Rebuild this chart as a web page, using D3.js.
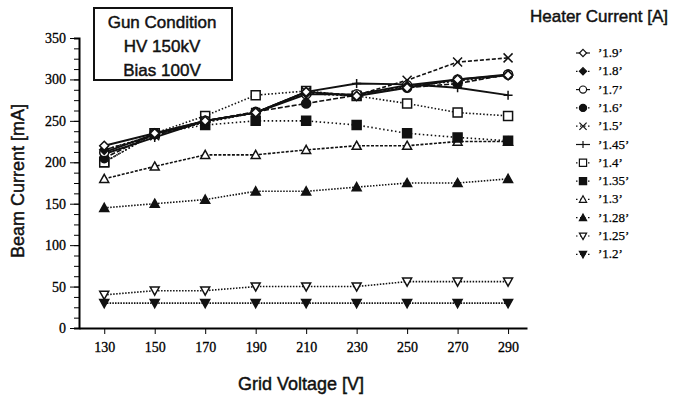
<!DOCTYPE html>
<html>
<head>
<meta charset="utf-8">
<script src="https://cdn.jsdelivr.net/npm/d3@7"></script>
<style>
  body { margin: 0; background: #fff; }
  .sans { font-family: "Liberation Sans", Arial, sans-serif; fill: #111; stroke: #111; stroke-width: 0.45px; }
  .serif { font-family: "Liberation Serif", "Times New Roman", serif; }
</style>
</head>
<body>
<svg id="chart" width="673" height="399"></svg>
<script>
// grid voltage [V]
const voltages = [130, 150, 170, 190, 210, 230, 250, 270, 290]
const yTicks = [0, 50, 100, 150, 200, 250, 300, 350]

// heater current labels and beam current [mA] per series
const heaterLabels = ['1.9', '1.8', '1.7', '1.6', '1.5', '1.45', '1.4', '1.35', '1.3', '1.28', '1.25', '1.2']
const s19  = [220, 235, 250, 260, 285, 280, 290, 300, 305]
const s18  = [215, 233, 248, 260, 283, 280, 292, 298, 305]
const s17  = [212, 234, 250, 260, 282, 282, 293, 300, 306]
const s16  = [205, 235, 250, 261, 271, 281, 290, 295, 306]
const s15  = [215, 232, 250, 260, 285, 281, 299, 321, 326]
const s145 = [210, 230, 250, 260, 285, 295, 294, 290, 281]
const s14  = [200, 235, 256, 281, 286, 280, 271, 260, 256]
const s135 = [200, 235, 245, 250, 250, 245, 235, 230, 226]
const s13  = [180, 195, 209, 209, 215, 220, 220, 225, 225]
const s128 = [145, 150, 155, 165, 165, 170, 175, 175, 180]
const s125 = [40, 45, 45, 50, 50, 50, 56, 56, 56]
const s12  = [30, 30, 30, 30, 30, 30, 30, 30, 30]
const seriesValues = [s19, s18, s17, s16, s15, s145, s14, s135, s13, s128, s125, s12]

// drawing style per series (symbol, filled, dash)
const styles = [
    {sym: 'diamond', fill: false, dash: null},
    {sym: 'diamond', fill: true, dash: '2,2'},
    {sym: 'circle', fill: false, dash: null},
    {sym: 'circle', fill: true, dash: '5,2'},
    {sym: 'cross', fill: false, dash: '4,2'},
    {sym: 'plus', fill: false, dash: null},
    {sym: 'square', fill: false, dash: '1.5,2'},
    {sym: 'square', fill: true, dash: '1.5,2.5'},
    {sym: 'triangle', fill: false, dash: '3,1.5'},
    {sym: 'triangle', fill: true, dash: '1.5,1.5'},
    {sym: 'triangleDown', fill: false, dash: '1.5,1.5'},
    {sym: 'triangleDown', fill: true, dash: '1.5,1.2'}
]

const svg = d3.select('#chart')
const margin = {top: 38, bottom: 71, left: 79, right: 146}
const width = 673 - margin.left - margin.right
const height = 399 - margin.top - margin.bottom

const x = d3.scaleLinear().domain([120, 297.5]).range([0, width])
const y = d3.scaleLinear().domain([0, 350]).range([height, 0])

const g = svg.append('g')
    .attr('transform', 'translate(' + margin.left + ',' + margin.top + ')')

const tickFont = a => a.selectAll('text')
    .attr('font-size', 14).attr('fill', '#000')
    .attr('stroke', '#000').attr('stroke-width', 0.3)
    .attr('font-family', '"Liberation Serif", serif')

// y axis: major + minor ticks
g.append('g')
    .call(d3.axisLeft(y).tickValues(d3.range(0, 351, 12.5)).tickSize(5).tickFormat(''))
    .call(a => a.select('.domain').attr('stroke-width', 2))
g.append('g')
    .call(d3.axisLeft(y).tickValues(yTicks).tickSize(9).tickPadding(4))
    .call(a => a.select('.domain').remove())
    .call(tickFont)

// x axis
g.append('g')
    .attr('transform', 'translate(0,' + height + ')')
    .call(d3.axisBottom(x).tickValues(voltages).tickSize(6).tickSizeOuter(0).tickPadding(8))
    .call(a => a.select('.domain').attr('stroke-width', 2))
    .call(tickFont)

// axis titles
svg.append('text')
    .attr('class', 'sans')
    .attr('transform', 'translate(24,' + (margin.top + height / 2 - 2) + ') rotate(-90)')
    .attr('text-anchor', 'middle')
    .attr('font-size', 18)
    .text('Beam Current [mA]')
svg.append('text')
    .attr('class', 'sans')
    .attr('x', 301).attr('y', 390)
    .attr('text-anchor', 'middle')
    .attr('font-size', 18)
    .text('Grid Voltage [V]')

function symbolPath(sym, size) {
    const s = size
    switch (sym) {
        case 'diamond': return 'M0,' + (-s) + 'L' + s + ',0L0,' + s + 'L' + (-s) + ',0Z'
        case 'circle': return d3.symbol(d3.symbolCircle, Math.PI * s * s)()
        case 'square': return 'M' + (-s) + ',' + (-s) + 'h' + 2 * s + 'v' + 2 * s + 'h' + (-2 * s) + 'Z'
        case 'triangle': return 'M0,' + (-s) + 'L' + s + ',' + (s * 0.8) + 'L' + (-s) + ',' + (s * 0.8) + 'Z'
        case 'triangleDown': return 'M0,' + s + 'L' + s + ',' + (-s * 0.8) + 'L' + (-s) + ',' + (-s * 0.8) + 'Z'
        case 'cross': return 'M' + (-s) + ',' + (-s) + 'L' + s + ',' + s + 'M' + (-s) + ',' + s + 'L' + s + ',' + (-s)
        case 'plus': return 'M' + (-s) + ',0H' + s + 'M0,' + (-s) + 'V' + s
    }
}

function drawSymbol(sel, st) {
    const open = st.sym === 'cross' || st.sym === 'plus'
    sel.append('path')
        .attr('d', symbolPath(st.sym, 4.5))
        .attr('fill', open ? 'none' : (st.fill ? '#111' : '#fff'))
        .attr('stroke', '#111')
        .attr('stroke-width', 1.5)
}

const line = d3.line()
    .x((d, i) => x(voltages[i]))
    .y(d => y(d))

// draw lower series first so the upper ones sit on top
seriesValues.slice().reverse().forEach((vals, ri) => {
    const i = seriesValues.length - 1 - ri
    const st = styles[i]
    g.append('path')
        .datum(vals)
        .attr('d', line)
        .attr('fill', 'none')
        .attr('stroke', '#111')
        .attr('stroke-width', st.dash ? 1.6 : 1.9)
        .attr('stroke-dasharray', st.dash)
    g.selectAll(null)
        .data(vals)
        .enter()
        .append('g')
        .attr('transform', (d, k) => 'translate(' + x(voltages[k]) + ',' + y(d) + ')')
        .each(function () { drawSymbol(d3.select(this), st) })
})

// gun condition box
const box = svg.append('g')
box.append('rect')
    .attr('x', 94).attr('y', 8).attr('width', 138).attr('height', 72)
    .attr('fill', '#fff').attr('stroke', '#111').attr('stroke-width', 2)
const boxLines = ['Gun Condition', 'HV 150kV', 'Bias 100V']
box.selectAll('text')
    .data(boxLines)
    .enter()
    .append('text')
    .attr('class', 'sans')
    .attr('x', 162)
    .attr('y', (d, i) => 28 + i * 24)
    .attr('text-anchor', 'middle')
    .attr('font-size', 17)
    .text(d => d)

// legend
svg.append('text')
    .attr('class', 'sans')
    .attr('x', 530).attr('y', 22)
    .attr('font-size', 17)
    .text('Heater Current [A]')

const legend = svg.append('g')
heaterLabels.forEach((lab, i) => {
    const ly = 53 + i * 18.3
    const st = styles[i]
    const row = legend.append('g').attr('transform', 'translate(583,' + ly + ')')
    row.append('line')
        .attr('x1', -7).attr('x2', 7)
        .attr('stroke', '#111').attr('stroke-width', 1.2)
        .attr('stroke-dasharray', st.dash ? '1.5,2.5' : null)
    const sym = row.append('g').attr('transform', 'scale(0.8)')
    drawSymbol(sym, st)
    row.append('text')
        .attr('x', 15).attr('y', 4)
        .attr('font-family', '"Liberation Serif", serif')
        .attr('font-size', 13)
        .attr('stroke', '#000').attr('stroke-width', 0.25)
        .text('\u2019' + lab + '\u2019')
})
</script>
</body>
</html>
